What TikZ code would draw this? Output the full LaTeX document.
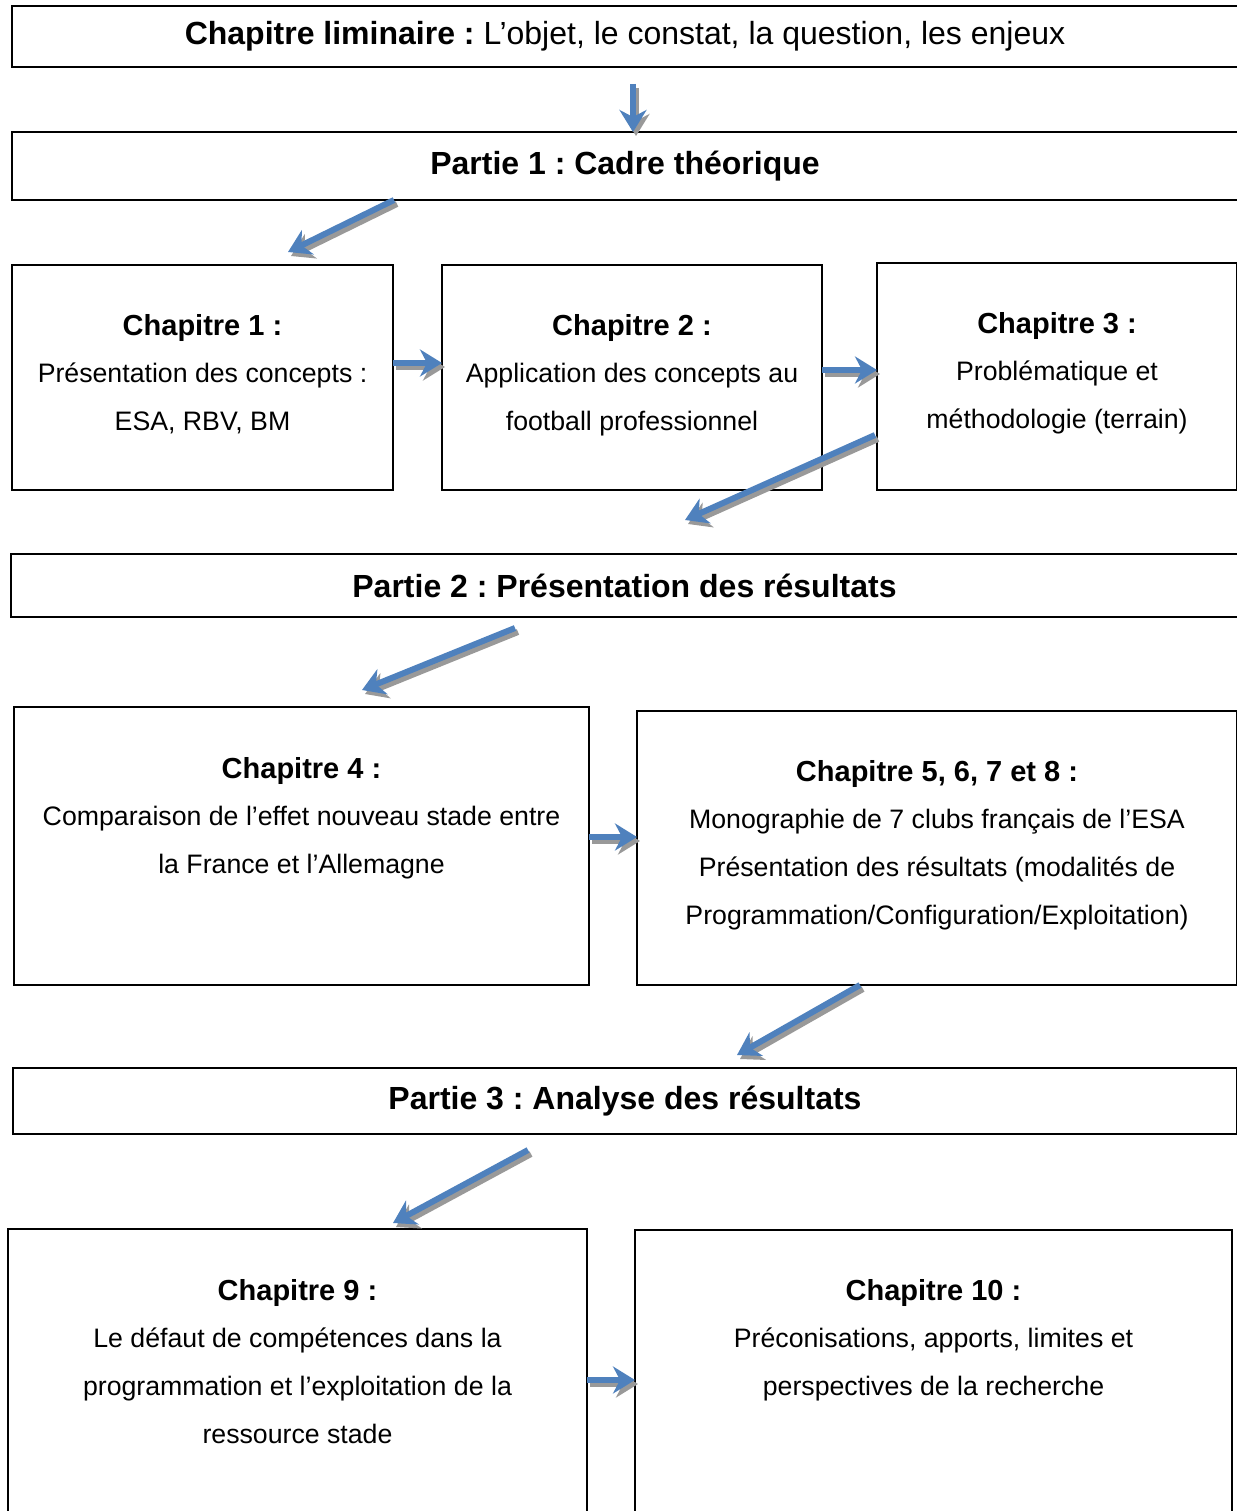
\documentclass[tikz,border=0pt]{standalone}
\usepackage{fontspec}
\setmainfont{Liberation Sans}
\frenchspacing
\usetikzlibrary{arrows.meta,positioning}
\definecolor{bleu}{RGB}{79,129,189}
\tikzset{%
  >={Stealth[length=22pt,width=27pt,inset=7pt]}, % grosses pointes
  inner sep=0pt,%
  outer sep=0pt,%
  boite/.style={draw,line width=2pt},%
  partie/.style={boite,font=\fontsize{32}{38}\selectfont\bfseries},%
  texte/.style={align=center,font=\fontsize{26.7}{47.7}\selectfont},%
  fleche/.style={->,draw=bleu,line width=6pt},%
  ombre/.style={->,draw=black!40,line width=6pt,
    transform canvas={shift={(3pt,-4pt)}}}%
}
\newcommand{\titrechap}[1]{{\fontsize{29}{47.7}\selectfont\bfseries #1}}

\begin{document}
\begin{tikzpicture}[x=1pt,y=-1pt] % PLAN

\useasboundingbox (0,0) rectangle (1236,1511);

% parties
\node[boite,font=\fontsize{32}{38}\selectfont,minimum width=1226pt,
  minimum height=61pt] (lim) at (625,36.5)
  {\textbf{Chapitre liminaire :} L’objet, le constat, la question, les enjeux};
\node[partie,minimum width=1226pt,minimum height=68pt] (p1) at (625,166)
  {Partie 1 : Cadre théorique};
\node[partie,minimum width=1227pt,minimum height=63pt] (p2) at (624.5,585.5)
  {Partie 2 : Présentation des résultats};
\node[partie,minimum width=1224pt,minimum height=66pt] (p3) at (625,1101)
  {Partie 3 : Analyse des résultats};

% chapitres
\node[boite,minimum width=381pt,minimum height=225pt] (ch1) at (202.5,377.5) {};
\node[boite,minimum width=380pt,minimum height=225pt] (ch2) at (632,377.5) {};
\node[boite,minimum width=360pt,minimum height=227pt] (ch3) at (1057,376.5) {};
\node[boite,minimum width=575pt,minimum height=278pt] (ch4) at (301.5,846) {};
\node[boite,minimum width=600pt,minimum height=274pt] (ch5) at (937,848) {};
\node[boite,minimum width=579pt,minimum height=300pt] (ch9) at (297.5,1379) {};
\node[boite,minimum width=597pt,minimum height=300pt] (ch10) at (933.5,1380) {};

\node[texte,below=49pt of ch1.north] (t1)
  {\titrechap{Chapitre 1 :}\\Présentation des concepts :\\ESA, RBV, BM};
\node[texte,below=49pt of ch2.north] (t2)
  {\titrechap{Chapitre 2 :}\\Application des concepts au\\football professionnel};
\node[texte,below=49pt of ch3.north] (t3)
  {\titrechap{Chapitre 3 :}\\Problématique et\\méthodologie (terrain)};
\node[texte,below=50pt of ch4.north] (t4)
  {\titrechap{Chapitre 4 :}\\Comparaison de l’effet nouveau stade entre\\la France et l’Allemagne};
\node[texte,below=49pt of ch5.north] (t5)
  {\titrechap{Chapitre 5, 6, 7 et 8 :}\\Monographie de 7 clubs français de l’ESA\\
   Présentation des résultats (modalités de\\Programmation/Configuration/Exploitation)};
\node[texte,below=50pt of ch9.north] (t9)
  {\titrechap{Chapitre 9 :}\\Le défaut de compétences dans la\\
   programmation et l’exploitation de la\\ressource stade};
\node[texte,below=49pt of ch10.north] (t10)
  {\titrechap{Chapitre 10 :}\\Préconisations, apports, limites et\\perspectives de la recherche};

% fleches
\coordinate (f0) at (633,84);
\coordinate (f1a) at (394,200);
\coordinate (f1b) at (288,252);
\coordinate (f3a) at (875,435);
\coordinate (f3b) at (685,520);
\coordinate (f4a) at (515,628);
\coordinate (f4b) at (362,690);
\coordinate (f5a) at (860,985);
\coordinate (f5b) at (737,1055);
\coordinate (f6a) at (528,1150);
\coordinate (f6b) at (393,1223);
\coordinate (h1) at (0,363);
\coordinate (h2) at (0,370);
\coordinate (h3) at (0,837);
\coordinate (h4) at (0,1380);

\foreach \a/\b in {f0/p1.north -| f0, f1a/f1b, ch1.east |- h1/ch2.west |- h1,
    ch2.east |- h2/ch3.west |- h2, f3a/f3b, f4a/f4b,
    ch4.east |- h3/ch5.west |- h3, f5a/f5b, f6a/f6b,
    ch9.east |- h4/ch10.west |- h4}{
  \draw[ombre] (\a) -- (\b);
  \draw[fleche] (\a) -- (\b);
}

\end{tikzpicture}
\end{document}
